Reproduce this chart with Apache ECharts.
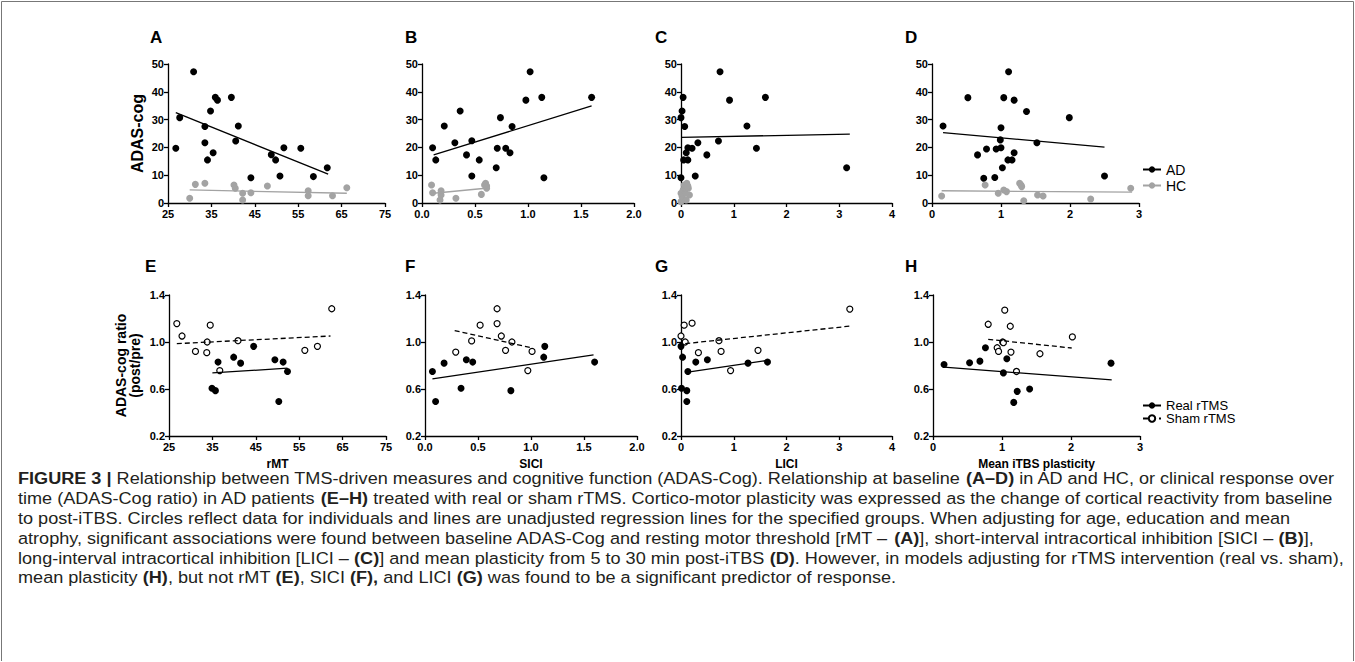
<!DOCTYPE html>
<html>
<head>
<meta charset="utf-8">
<script src="https://cdn.jsdelivr.net/npm/echarts@6/dist/echarts.min.js"></script>
<style>
  html, body { margin: 0; padding: 0; background: #fff; }
  #main { width: 1355px; height: 662px; }
</style>
</head>
<body>
<div id="main"></div>
<script>
// ---- baseline (A-D): ADAS-cog vs TMS measure, AD and HC ----
const rmtAD = [[26.8,19.7],[27.7,30.7],[30.9,47.2],[33.5,27.5],[33.5,21.7],[34.1,15.5],[34.8,33.1],[35.4,18.1],[35.9,38.0],[36.4,37.0],[39.6,38.0],[40.6,22.3],[41.2,27.7],[44.1,9.1],[48.8,17.4],[49.8,15.5],[50.8,9.7],[51.7,19.9],[55.6,19.7],[58.5,9.5],[61.7,12.7]]
const rmtHC = [[30.0,1.7],[31.3,6.7],[33.5,7.1],[40.2,6.5],[40.5,5.3],[42.2,3.5],[42.2,1.1],[44.1,3.7],[47.9,6.1],[57.3,4.4],[57.3,2.6],[62.9,2.6],[66.2,5.5]]
const rmtFitAD = [[26.8,32.5],[61.9,10.4]]
const rmtFitHC = [[30.0,4.7],[66.2,3.5]]

const siciAD = [[0.10,19.9],[0.13,15.5],[0.21,27.7],[0.31,21.7],[0.36,33.1],[0.42,17.3],[0.47,22.4],[0.47,9.7],[0.54,15.5],[0.70,12.7],[0.71,19.7],[0.74,30.7],[0.79,19.7],[0.83,18.1],[0.85,27.5],[0.98,37.0],[1.02,47.2],[1.13,38.0],[1.15,9.1],[1.60,38.0]]
const siciHC = [[0.09,6.5],[0.10,3.7],[0.18,4.4],[0.18,2.9],[0.17,1.1],[0.32,1.7],[0.56,3.1],[0.60,7.1],[0.61,6.1],[0.61,5.3],[0.59,6.5]]
const siciFitAD = [[0.11,17.3],[1.60,34.9]]
const siciFitHC = [[0.11,3.5],[0.60,5.3]]

const liciAD = [[0.0,30.7],[0.02,33.1],[0.04,38.0],[0.07,27.5],[0.0,9.1],[0.05,15.5],[0.13,15.5],[0.10,18.1],[0.13,19.9],[0.21,19.7],[0.27,9.7],[0.32,21.7],[0.49,17.3],[0.71,22.3],[0.74,47.2],[0.92,37.0],[1.25,27.7],[1.43,19.7],[1.60,38.0],[3.14,12.7]]
const liciHC = [[0,0.5],[0.02,2.3],[0.04,4.7],[0.06,6.5],[0.11,7.1],[0.14,5.3],[0.16,2.9],[0.08,3.5],[0,3.5],[0.10,1.1],[0.13,6.1]]
const liciFitAD = [[0,23.6],[3.2,24.8]]
const liciFitHC = [[0,3.6],[0.16,4.6]]

const itbsAD = [[0.16,27.7],[0.52,37.9],[0.66,17.3],[0.75,8.9],[0.79,19.4],[0.91,9.2],[0.93,19.4],[0.99,22.7],[1.00,27.1],[1.00,19.9],[1.02,12.7],[1.04,37.9],[1.10,15.5],[1.11,47.2],[1.16,15.5],[1.19,37.0],[1.19,18.1],[1.37,32.9],[1.52,21.7],[1.99,30.7],[2.50,9.7]]
const itbsHC = [[0.14,2.5],[0.77,6.5],[0.96,3.5],[1.04,4.7],[1.08,4.1],[1.27,7.1],[1.29,6.5],[1.30,5.9],[1.33,0.8],[1.53,2.9],[1.61,2.5],[2.30,1.4],[2.88,5.3]]
const itbsFitAD = [[0.16,25.3],[2.5,20.1]]
const itbsFitHC = [[0.14,4.4],[2.9,3.9]]

// ---- response (E-H): ADAS-cog ratio post/pre, real vs sham rTMS ----
const rmtReal = [[36.3,0.829],[34.9,0.606],[35.7,0.586],[39.9,0.871],[41.5,0.82],[44.5,0.963],[49.4,0.849],[50.3,0.494],[51.3,0.829],[52.3,0.749]]
const rmtSham = [[26.8,1.157],[28.0,1.051],[31.1,0.92],[33.7,0.909],[33.8,1.0],[34.5,1.143],[36.7,0.757],[40.9,1.011],[56.3,0.929],[59.2,0.963],[62.5,1.283]]
const rmtFitReal = [[35.0,0.737],[52.3,0.777]]
const rmtFitSham = [[26.8,0.986],[62.2,1.051]]

const siciReal = [[0.07,0.749],[0.10,0.494],[0.18,0.82],[0.34,0.606],[0.39,0.849],[0.45,0.829],[0.81,0.586],[1.12,0.871],[1.13,0.963],[1.60,0.829]]
const siciSham = [[0.29,0.914],[0.44,1.009],[0.52,1.143],[0.68,1.283],[0.68,1.157],[0.72,1.051],[0.76,0.929],[0.82,1.0],[0.97,0.757],[1.01,0.92]]
const siciFitReal = [[0.07,0.686],[1.59,0.891]]
const siciFitSham = [[0.28,1.097],[1.01,0.949]]

const liciReal = [[0,0.963],[0.03,0.871],[0.13,0.749],[0.28,0.829],[0.50,0.849],[1.27,0.82],[1.64,0.829],[0.01,0.606],[0.11,0.586],[0.11,0.494]]
const liciSham = [[0,1.051],[0.06,1.143],[0.21,1.16],[0.08,1.0],[0.33,0.909],[0.72,1.011],[0.76,0.92],[0.94,0.757],[1.46,0.929],[3.2,1.28]]
const liciFitReal = [[0.13,0.743],[1.64,0.843]]
const liciFitSham = [[0.08,0.986],[3.2,1.135]]

const itbsReal = [[0.16,0.809],[0.53,0.823],[0.68,0.837],[0.76,0.951],[1.02,0.737],[1.07,0.857],[1.17,0.486],[1.22,0.58],[1.40,0.60],[2.58,0.82]]
const itbsSham = [[0.80,1.151],[0.93,0.951],[0.95,0.92],[1.01,1.0],[1.02,0.994],[1.04,1.271],[1.12,1.134],[1.13,0.914],[1.21,0.749],[1.55,0.9],[2.02,1.043]]
const itbsFitReal = [[0.16,0.786],[2.59,0.677]]
const itbsFitSham = [[0.80,1.023],[2.01,0.949]]

// axis ranges / tick steps
const xRanges = [[25, 75, 10], [0, 2, 0.5], [0, 4, 1], [0, 3, 1]]
const xDecimals = [0, 1, 0, 0]
const xNames = ['rMT', 'SICI', 'LICI', 'Mean iTBS plasticity']
const panelLetters = ['A', 'B', 'C', 'D', 'E', 'F', 'G', 'H']

const FONT = "'Liberation Sans', Arial, sans-serif"
const GREY = '#a3a3a3'

// grid boxes (px)
const colLeftTop = [168, 422, 681, 932]
const colLeftBot = [169, 425, 681, 933]
const colWidth = [217, 212, 211, 207]

const grids = []
const xAxes = []
const yAxes = []
for (let r = 0; r < 2; r++) {
  for (let c = 0; c < 4; c++) {
    grids.push({
      left: r === 0 ? colLeftTop[c] : colLeftBot[c],
      top: r === 0 ? 64 : 295,
      width: colWidth[c],
      height: r === 0 ? 139 : 141
    })
    const idx = grids.length - 1
    const line = { show: true, onZero: false, lineStyle: { color: '#000', width: 1.3 } }
    const tick = { show: true, length: 4, lineStyle: { color: '#000', width: 1.3 } }
    xAxes.push({
      type: 'value', gridIndex: idx,
      min: xRanges[c][0], max: xRanges[c][1], interval: xRanges[c][2],
      axisLine: line, axisTick: tick, splitLine: { show: false },
      axisLabel: {
        color: '#000', fontWeight: 'bold', fontSize: 11, fontFamily: FONT, margin: 5,
        formatter: v => v.toFixed(xDecimals[c])
      },
      name: r === 1 ? xNames[c] : '',
      nameLocation: 'middle', nameGap: 22,
      nameTextStyle: { color: '#000', fontWeight: 'bold', fontSize: 12, fontFamily: FONT }
    })
    let yName = ''
    if (c === 0) yName = r === 0 ? 'ADAS-cog' : 'ADAS-cog ratio\n(post/pre)'
    yAxes.push({
      type: 'value', gridIndex: idx,
      min: r === 0 ? 0 : 0.2, max: r === 0 ? 50 : 1.4, interval: r === 0 ? 10 : 0.4,
      axisLine: line, axisTick: tick, splitLine: { show: false },
      axisLabel: {
        color: '#000', fontWeight: 'bold', fontSize: 11, fontFamily: FONT, margin: 4,
        formatter: v => (r === 0 ? v.toFixed(0) : v.toFixed(1))
      },
      name: yName, nameLocation: 'middle', nameRotate: 90,
      nameGap: r === 0 ? 24 : 27,
      nameTextStyle: { color: '#000', fontWeight: 'bold', fontSize: r === 0 ? 16 : 14, lineHeight: 14, fontFamily: FONT }
    })
  }
}

function fitLine(name, idx, data, color, dashed, sym) {
  return {
    name: name, type: 'line', xAxisIndex: idx, yAxisIndex: idx, data: data,
    showSymbol: false, symbol: sym, symbolSize: 7, silent: true,
    lineStyle: { color: color, width: 1.3, type: dashed ? [5, 3] : 'solid' },
    itemStyle: { color: color, borderColor: color }
  }
}
function dots(name, idx, data, color, open) {
  return {
    name: name, type: 'scatter', xAxisIndex: idx, yAxisIndex: idx, data: data,
    symbol: 'circle', symbolSize: open ? 6 : 7, silent: true,
    itemStyle: open
      ? { color: '#fff', borderColor: '#000', borderWidth: 1.2, opacity: 1 }
      : { color: color, opacity: 1 }
  }
}

const topSets = [
  [rmtAD, rmtHC, rmtFitAD, rmtFitHC],
  [siciAD, siciHC, siciFitAD, siciFitHC],
  [liciAD, liciHC, liciFitAD, liciFitHC],
  [itbsAD, itbsHC, itbsFitAD, itbsFitHC]
]
const botSets = [
  [rmtReal, rmtSham, rmtFitReal, rmtFitSham],
  [siciReal, siciSham, siciFitReal, siciFitSham],
  [liciReal, liciSham, liciFitReal, liciFitSham],
  [itbsReal, itbsSham, itbsFitReal, itbsFitSham]
]

const lines = []
const points = []
topSets.forEach((s, c) => {
  lines.push(fitLine('AD', c, s[2], '#000', false, 'circle'))
  lines.push(fitLine('HC', c, s[3], GREY, false, 'circle'))
  points.push(dots('AD', c, s[0], '#000', false))
  points.push(dots('HC', c, s[1], GREY, false))
})
botSets.forEach((s, c) => {
  lines.push(fitLine('Real rTMS', c + 4, s[2], '#000', false, 'circle'))
  lines.push(fitLine('Sham rTMS', c + 4, s[3], '#000', true, 'emptyCircle'))
  points.push(dots('Real rTMS', c + 4, s[0], '#000', false))
  points.push(dots('Sham rTMS', c + 4, s[1], '#000', true))
})

// caption lines, bold parts marked with {b|...}
const caption = [
  '{b|FIGURE 3 |} Relationship between TMS-driven measures and cognitive function (ADAS-Cog). Relationship at baseline {b|(A–D)} in AD and HC, or clinical response over',
  'time (ADAS-Cog ratio) in AD patients {b|(E–H)} treated with real or sham rTMS. Cortico-motor plasticity was expressed as the change of cortical reactivity from baseline',
  'to post-iTBS. Circles reflect data for individuals and lines are unadjusted regression lines for the specified groups. When adjusting for age, education and mean',
  'atrophy, significant associations were found between baseline ADAS-Cog and resting motor threshold [rMT – {b|(A)}], short-interval intracortical inhibition [SICI – {b|(B)}],',
  'long-interval intracortical inhibition [LICI – {b|(C)}] and mean plasticity from 5 to 30 min post-iTBS {b|(D)}. However, in models adjusting for rTMS intervention (real vs. sham),',
  'mean plasticity {b|(H)}, but not rMT {b|(E)}, SICI {b|(F),} and LICI {b|(G)} was found to be a significant predictor of response.'
]

const graphics = [{
  type: 'polyline', silent: true,
  shape: { points: [[1.5, 661], [1.5, 1.5], [1353.5, 1.5], [1353.5, 661]] },
  style: { fill: null, stroke: '#777', lineWidth: 1 }
}]
const letterPos = [[150, 29], [405, 29], [655, 29], [905, 29], [145, 258], [405, 258], [655, 258], [905, 258]]
panelLetters.forEach((t, i) => {
  graphics.push({
    type: 'text', left: letterPos[i][0], top: letterPos[i][1], silent: true,
    style: { text: t, fill: '#000', font: 'bold 17px ' + FONT }
  })
})
caption.forEach((t, i) => {
  graphics.push({
    type: 'text', x: 18, y: 470 + i * 19.8, scaleX: 1.065, silent: true,
    style: {
      text: t, fill: '#231f20', fontSize: 17, fontFamily: FONT,
      rich: { b: { fontWeight: 'bold', fontSize: 17, fontFamily: FONT, fill: '#231f20' } }
    }
  })
})

const legendText = { color: '#000', fontSize: 14, lineHeight: 15, fontFamily: FONT }
const chart = echarts.init(document.getElementById('main'), null, { renderer: 'svg' })
chart.setOption({
  animation: false,
  backgroundColor: '#fff',
  grid: grids,
  xAxis: xAxes,
  yAxis: yAxes,
  legend: [
    { data: ['AD', 'HC'], orient: 'vertical', left: 1142, top: 162, padding: 0, itemWidth: 18, itemHeight: 8, itemGap: 1, textStyle: legendText, selectedMode: false },
    { data: ['Real rTMS', 'Sham rTMS'], orient: 'vertical', left: 1142, top: 399, padding: 0, itemWidth: 18, itemHeight: 8, itemGap: 0, textStyle: Object.assign({}, legendText, { fontSize: 13, lineHeight: 13 }), selectedMode: false }
  ],
  series: lines.concat(points),
  graphic: graphics
})
</script>
</body>
</html>
